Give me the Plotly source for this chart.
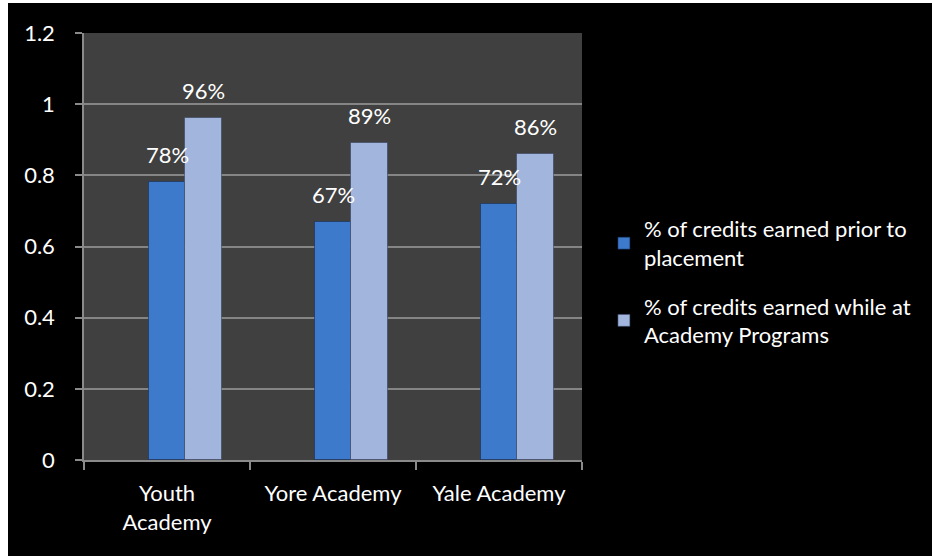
import plotly.graph_objects as go

# Academy programs and credit-completion rates
categories = ["Youth<br>Academy", "Yore Academy", "Yale Academy"]
prior_to_placement = [0.78, 0.67, 0.72]
while_at_academy = [0.96, 0.89, 0.86]
series_names = [
    "% of credits earned prior to<br>placement",
    "% of credits earned while at<br>Academy Programs",
]
y_ticks = [0, 0.2, 0.4, 0.6, 0.8, 1, 1.2]
y_tick_text = ["0", "0.2", "0.4", "0.6", "0.8", "1", "1.2"]

FONT = "Lato, 'Open Sans', sans-serif"
FS = 22
BLUE = "#3d7acb"
LAVENDER = "#a2b5dd"
BAR_W = 0.222

fig = go.Figure()
fig.add_trace(go.Bar(
    x=categories, y=prior_to_placement, name=series_names[0],
    width=BAR_W, offset=-BAR_W / 2, legendgroup="a",
    marker=dict(color=BLUE, line=dict(color="rgba(20,40,80,0.55)", width=1)),
))
fig.add_trace(go.Bar(
    x=categories, y=while_at_academy, name=series_names[1],
    width=BAR_W, offset=BAR_W / 2, legendgroup="b",
    marker=dict(color=LAVENDER, line=dict(color="rgba(50,60,90,0.55)", width=1)),
))

# percentage labels above each bar
px_per_cat = 498 / 3
for vals, shift in ((prior_to_placement, 0), (while_at_academy, BAR_W * px_per_cat)):
    for cat, v in zip(categories, vals):
        fig.add_annotation(
            x=cat, y=v, text=f"{round(v * 100)}%", showarrow=False,
            xshift=shift, yshift=12, yanchor="bottom", xanchor="center",
            font=dict(family=FONT, size=FS, color="white"),
        )

# thin white strips along the left and top edges of the canvas
fig.add_shape(type="rect", xref="paper", yref="paper", layer="above",
              x0=-0.2, x1=(8 - 84) / 498, y0=-0.4, y1=1.2,
              fillcolor="white", line=dict(width=0))
fig.add_shape(type="rect", xref="paper", yref="paper", layer="above",
              x0=-0.2, x1=1.8, y0=(460 - 3) / 427, y1=1.2,
              fillcolor="white", line=dict(width=0))

fig.update_layout(
    width=932, height=556,
    margin=dict(l=84, r=932 - 582, t=33, b=556 - 460),
    paper_bgcolor="black", plot_bgcolor="#404040",
    barmode="overlay", bargap=0,
    font=dict(family=FONT, size=FS, color="white"),
    showlegend=True,
    legend=dict(
        x=1.044, y=0.59, xanchor="left", yanchor="top",
        font=dict(family=FONT, size=FS, color="white"),
        bgcolor="rgba(0,0,0,0)", tracegroupgap=17,
        traceorder="grouped",
    ),
    xaxis=dict(
        type="category", tickson="boundaries", ticks="outside", ticklen=8,
        tickcolor="#8a8a8a", tickwidth=1.5,
        showline=True, linecolor="#8a8a8a", linewidth=1.5,
        showgrid=False, ticklabelstandoff=13,
        tickfont=dict(family=FONT, size=FS, color="white"),
    ),
    yaxis=dict(
        range=[0, 1.2], tickvals=y_ticks, ticktext=y_tick_text,
        ticks="outside", ticklen=7, tickcolor="#8a8a8a", tickwidth=1.5,
        showline=True, linecolor="#8a8a8a", linewidth=1.5,
        showgrid=True, gridcolor="#858585", gridwidth=1.5,
        zeroline=False, ticklabelstandoff=16,
        tickfont=dict(family=FONT, size=FS, color="white"),
    ),
)

fig.write_html("out.html")
